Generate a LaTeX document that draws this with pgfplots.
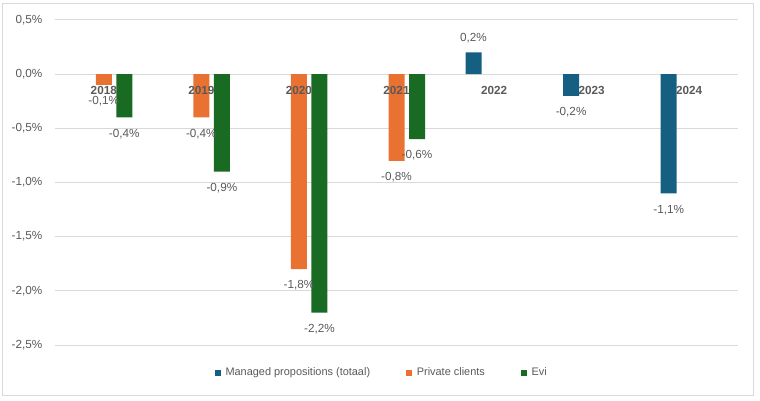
\documentclass[border=0pt]{standalone}
\usepackage{fontspec}
\setmainfont{Liberation Sans}
\usepackage{pgfplots}
\pgfplotsset{compat=1.18}

\definecolor{mpblue}{HTML}{156082}
\definecolor{pcorange}{HTML}{E97132}
\definecolor{evigreen}{HTML}{196B24}
\definecolor{txtgray}{HTML}{595959}
\definecolor{gridgray}{HTML}{D9D9D9}

\pgfplotsset{
  excelframe/.style={
    at={(0pt,0pt)}, anchor=south west,
    scale only axis,
    width=512.25pt, height=243.75pt,
    xmin=-0.5, xmax=6.5,
    ymin=-2.5, ymax=0.5,
    axis line style={draw=none,-},
    tick style={draw=none},
    major tick length=0pt,
  },
}

\begin{document}
\begin{tikzpicture}
% page: 760x400 px, 1px = 0.75pt, plot area lower left at origin
\draw[gridgray, line width=0.75pt] (-39pt,-37.5pt) rectangle (523.5pt,255.75pt);

\begin{axis}[
    excelframe,
    xtick={0,1,2,3,4,5,6},
    xticklabels={},
    ytick={-2.5,-2,-1.5,-1,-0.5,0,0.5},
    yticklabel={\pgfmathprintnumber[fixed,fixed zerofill,precision=1,use comma,assume math mode=true]{\tick}\%},
    yticklabel style={font=\fontsize{8.8}{10}\selectfont, text=txtgray, xshift=-6pt},
    ymajorgrids,
    grid style={draw=gridgray, line width=0.75pt},
    ybar,
    bar width=12pt,
    nodes near coords={\pgfmathprintnumber[fixed,fixed zerofill,precision=1,use comma,assume math mode=true]{\pgfplotspointmeta}\%},
    every node near coord/.append style={font=\fontsize{8.8}{10}\selectfont, text=txtgray, inner ysep=7.75pt, yshift=-0.75pt},
    legend columns=-1,
    legend style={at={(0.478,0)}, anchor=center, yshift=-21pt, draw=none, fill=none,
        font=\fontsize{8.2}{10}\selectfont, text=txtgray,
        nodes={inner sep=1pt},
        /tikz/every odd column/.append style={column sep=2.5pt},
        /tikz/every even column/.append style={column sep=26pt}},
    legend image code/.code={\fill[#1] (0pt,-2.25pt) rectangle (4.5pt,2.25pt);},
]

% Managed propositions (totaal)
\addplot[fill=mpblue, draw=none, bar shift=-15.4pt] coordinates {
(4, 0.2) (5, -0.2) (6, -1.1)
};
\addlegendentry{Managed propositions (totaal)}

% Private clients
\addplot[fill=pcorange, draw=none, bar shift=0pt] coordinates {
(0, -0.1) (1, -0.4) (2, -1.8) (3, -0.8)
};
\addlegendentry{Private clients}

% Evi
\addplot[fill=evigreen, draw=none, bar shift=15.4pt] coordinates {
(0, -0.4) (1, -0.9) (2, -2.2) (3, -0.6)
};
\addlegendentry{Evi}

\end{axis}

% category labels sit on the zero line, drawn over the bars
\begin{axis}[
    excelframe,
    axis x line=middle,
    axis y line=none,
    hide obscured x ticks=false,
    ytick=\empty,
    xtick={0,1,2,3,4,5,6},
    xticklabels={2018,2019,2020,2021,2022,2023,2024},
    xticklabel style={font=\fontsize{8.8}{10}\selectfont\bfseries, text=txtgray, yshift=-5.5pt},
]
\end{axis}
\path (-41.25pt,-41.25pt) rectangle (528.75pt,258.75pt);
\end{tikzpicture}
\end{document}
